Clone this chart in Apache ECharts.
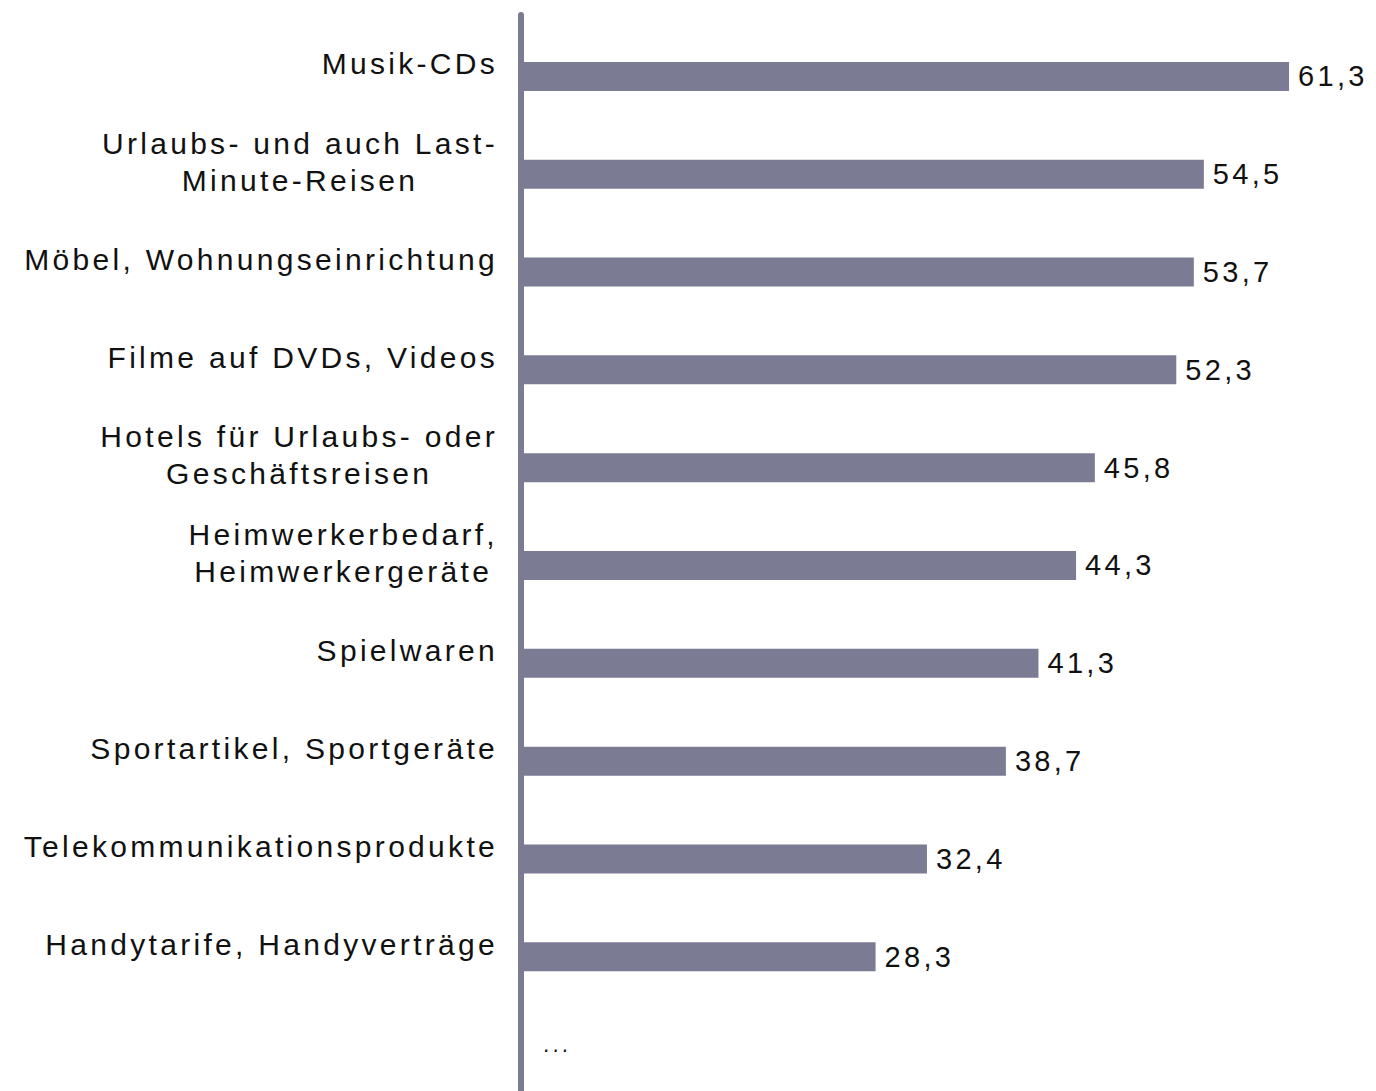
<!DOCTYPE html>
<html>
<head>
<meta charset="utf-8">
<script src="https://cdn.jsdelivr.net/npm/echarts@6/dist/echarts.min.js"></script>
<style>
html, body { margin: 0; padding: 0; background: #fff; }
#myChart { width: 1376px; height: 1091px; }
/* gespreizte Schrift wie im Original */
#myChart text { letter-spacing: 3.3px; }
</style>
</head>
<body>
<div id="myChart"></div>
<script>
const categories = [
  'Musik-CDs',
  'Urlaubs- und auch Last-\nMinute-Reisen',
  'Möbel, Wohnungseinrichtung',
  'Filme auf DVDs, Videos',
  'Hotels für Urlaubs- oder\nGeschäftsreisen',
  'Heimwerkerbedarf,\nHeimwerkergeräte',
  'Spielwaren',
  'Sportartikel, Sportgeräte',
  'Telekommunikationsprodukte',
  'Handytarife, Handyverträge'
]
const values = [61.3, 54.5, 53.7, 52.3, 45.8, 44.3, 41.3, 38.7, 32.4, 28.3]
const moreLabel = '...'

const LS = 3.3
const barColor = '#7b7b93'
const font = "'Liberation Sans', Arial, sans-serif"

// Textbreite inkl. Buchstabenabstand messen
const mctx = document.createElement('canvas').getContext('2d')
if (echarts.setPlatformAPI) {
  echarts.setPlatformAPI({
    measureText: function (text, f) {
      mctx.font = f || '12px sans-serif'
      return { width: mctx.measureText(text).width + LS * text.length }
    }
  })
}

let myChart = echarts.init(document.getElementById('myChart'), null, { renderer: 'svg' })

let barData = values.map(v => v)
barData.push({
  value: 0,
  label: {
    formatter: moreLabel,
    fontSize: 22,
    fontStyle: 'italic',
    distance: 23,
    offset: [0, -10]
  }
})

myChart.setOption({
  animation: false,
  grid: { left: 521, top: 15, height: 1077, width: 852 },
  xAxis: {
    type: 'value',
    min: 0,
    max: 68,
    show: false
  },
  yAxis: {
    type: 'category',
    inverse: true,
    data: categories.concat([moreLabel]),
    axisTick: { show: false },
    axisLine: {
      show: true,
      lineStyle: { color: barColor, width: 6, cap: 'round' }
    },
    axisLabel: {
      align: 'right',
      margin: 23,
      formatter: function (v) {
        if (v === moreLabel) return ''
        return v.split('\n').map(s => '{c|' + s + '}').join('\n')
      },
      rich: {
        c: {
          align: 'center',
          fontSize: 30,
          lineHeight: 37,
          fontFamily: font,
          color: '#111'
        }
      }
    }
  },
  series: [
    {
      // Platzhalter, damit die Balken unterhalb der Beschriftung liegen
      type: 'bar',
      data: [],
      barWidth: 29,
      barGap: '-13.8%',
      silent: true
    },
    {
      type: 'bar',
      data: barData,
      barWidth: 29,
      barGap: '-13.8%',
      itemStyle: { color: barColor },
      label: {
        show: true,
        position: 'right',
        distance: 9,
        fontSize: 29,
        fontFamily: font,
        color: '#111',
        formatter: p => String(p.value).replace('.', ',')
      }
    }
  ]
})
</script>
</body>
</html>
